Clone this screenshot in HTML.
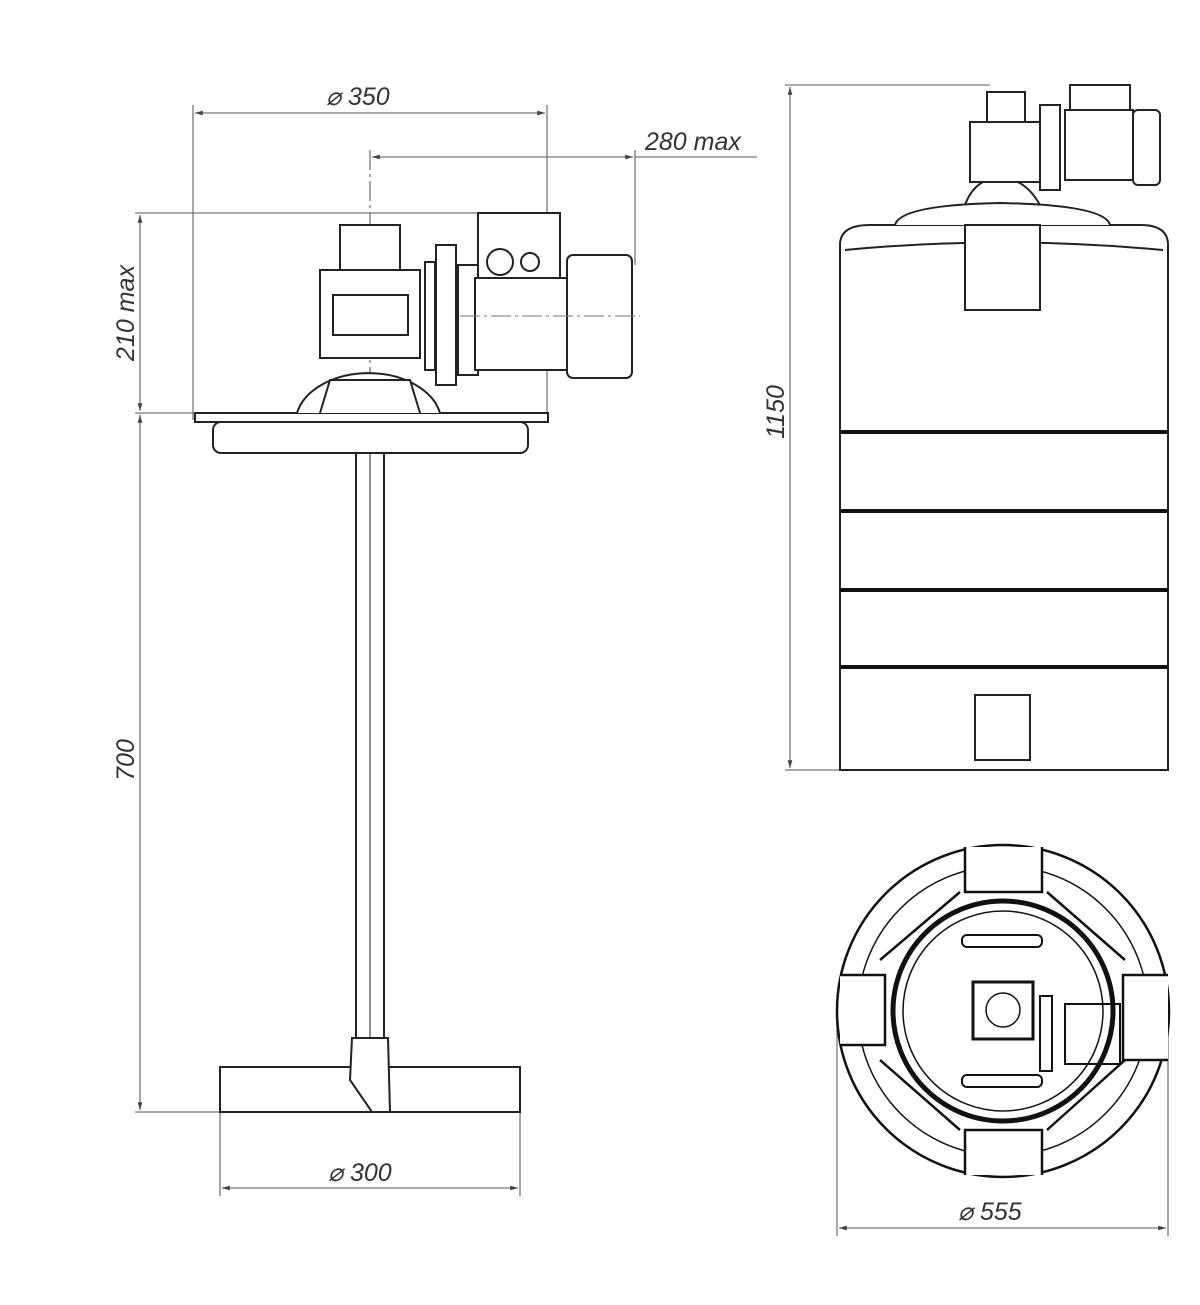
<!DOCTYPE html>
<html><head><style>body{margin:0;background:#fff}svg{display:block}</style></head><body>
<svg width="1200" height="1305" viewBox="0 0 1200 1305" xmlns="http://www.w3.org/2000/svg" font-family="Liberation Sans, sans-serif">
<defs><marker id="a" viewBox="0 0 10 10" refX="10" refY="5" markerWidth="10" markerHeight="6" orient="auto-start-reverse"><path d="M0,2 L10,5 L0,8z" fill="#444"/></marker></defs>
<g stroke="#777" stroke-width="1.3" fill="none">
<line x1="193" y1="105" x2="193" y2="420"/><line x1="547" y1="105" x2="547" y2="420"/>
<line x1="195" y1="113" x2="545" y2="113" marker-start="url(#a)" marker-end="url(#a)"/>
<line x1="635" y1="150" x2="635" y2="265"/>
<line x1="372" y1="157" x2="633" y2="157" marker-start="url(#a)" marker-end="url(#a)"/><line x1="635" y1="157" x2="757" y2="157"/>
<line x1="135" y1="213" x2="548" y2="213"/><line x1="135" y1="413" x2="195" y2="413"/>
<line x1="140" y1="215" x2="140" y2="411" marker-start="url(#a)" marker-end="url(#a)"/>
<line x1="140" y1="415" x2="140" y2="1110" marker-start="url(#a)" marker-end="url(#a)"/>
<line x1="135" y1="1112" x2="222" y2="1112"/>
<line x1="220" y1="1070" x2="220" y2="1196"/><line x1="520" y1="1070" x2="520" y2="1196"/>
<line x1="222" y1="1188" x2="518" y2="1188" marker-start="url(#a)" marker-end="url(#a)"/>
<line x1="370" y1="150" x2="370" y2="460" stroke-dasharray="20,4,3,4"/>
<line x1="785" y1="85" x2="990" y2="85"/><line x1="785" y1="770" x2="842" y2="770"/>
<line x1="790" y1="87" x2="790" y2="768" marker-start="url(#a)" marker-end="url(#a)"/>
<line x1="837" y1="1010" x2="837" y2="1236"/><line x1="1168" y1="1010" x2="1168" y2="1236"/>
<line x1="839" y1="1228" x2="1166" y2="1228" marker-start="url(#a)" marker-end="url(#a)"/>
</g>
<g fill="#333" font-style="italic" font-size="25">
<text x="326" y="105">⌀ 350</text>
<text x="645" y="150">280 max</text>
<text x="328" y="1181">⌀ 300</text>
<text x="958" y="1220">⌀ 555</text>
<text transform="translate(134,313) rotate(-90)" text-anchor="middle">210 max</text>
<text transform="translate(134,760) rotate(-90)" text-anchor="middle">700</text>
<text transform="translate(784,412) rotate(-90)" text-anchor="middle">1150</text>
</g>
<g stroke="#222" stroke-width="2" fill="#fff">
<rect x="195" y="413" width="353" height="9"/>
<rect x="213" y="422" width="315" height="31" rx="8"/>
<path d="M297,413 A73,50 0 0 1 440,413"/>
<path d="M320,413 L330,380 L410,380 L420,413"/>
<rect x="356" y="453" width="28" height="585"/>
<line x1="370" y1="453" x2="370" y2="1038" stroke-width="1"/>
<rect x="220" y="1067" width="300" height="45"/>
<path d="M352,1038 L388,1038 L390,1112 L372,1112 L350,1080 Z"/>
<rect x="340" y="225" width="60" height="45"/>
<rect x="320" y="270" width="100" height="88"/>
<rect x="333" y="295" width="75" height="40"/>
<rect x="425" y="262" width="10" height="108"/>
<rect x="436" y="245" width="20" height="140"/>
<rect x="458" y="265" width="20" height="110"/>
<rect x="478" y="213" width="82" height="65"/>
<circle cx="500" cy="262" r="13"/><circle cx="530" cy="262" r="9"/>
<rect x="475" y="278" width="92" height="92"/>
<rect x="567" y="255" width="65" height="123" rx="6"/>
</g>
<line x1="460" y1="316" x2="640" y2="316" stroke="#777" stroke-dasharray="20,4,3,4"/>
<g stroke="#222" stroke-width="2" fill="#fff">
<path d="M840,770 L840,245 Q840,225 870,225 L1140,225 Q1168,225 1168,245 L1168,770 Z"/>
<path d="M895,225 Q900,205 1000,203 Q1105,205 1110,225"/>
<path d="M845,250 Q1000,235 1163,250" fill="none"/>
<rect x="965" y="225" width="75" height="85"/>
<rect x="975" y="695" width="55" height="65"/>
<path d="M965,205 Q975,178 1000,178 Q1025,178 1040,205" fill="none"/>
<rect x="987" y="92" width="38" height="30"/>
<rect x="970" y="122" width="70" height="60"/>
<rect x="1040" y="105" width="20" height="85"/>
<rect x="1070" y="85" width="60" height="25"/>
<rect x="1065" y="110" width="68" height="70"/>
<rect x="1133" y="110" width="27" height="75" rx="5"/>
</g>
<g stroke="#111" stroke-width="4">
<line x1="840" y1="432" x2="1168" y2="432"/><line x1="840" y1="511" x2="1168" y2="511"/>
<line x1="840" y1="590" x2="1168" y2="590"/><line x1="840" y1="667" x2="1168" y2="667"/>
</g>
<g stroke="#111" stroke-width="2.5" fill="none">
<circle cx="1003" cy="1011" r="166"/>
<circle cx="1003" cy="1011" r="145" stroke-width="1.5"/>
<circle cx="1003" cy="1011" r="110" stroke-width="5"/>
<circle cx="1003" cy="1011" r="100" stroke-width="1.5"/>
<path d="M965,847 L965,892 L1042,892 L1042,847" fill="#fff"/>
<path d="M965,1175 L965,1130 L1042,1130 L1042,1175" fill="#fff"/>
<path d="M840,975 L885,975 L885,1045 L840,1045" fill="#fff"/>
<path d="M1168,975 L1123,975 L1123,1060 L1168,1060" fill="#fff"/>
<path d="M960,892 L880,960 M1047,892 L1125,960 M960,1130 L880,1060 M1047,1130 L1125,1060"/>
<rect x="962" y="935" width="80" height="12" rx="5" stroke-width="2"/>
<rect x="962" y="1075" width="80" height="12" rx="5" stroke-width="2"/>
<rect x="973" y="982" width="60" height="57" stroke-width="3"/>
<circle cx="1003" cy="1010" r="17" stroke-width="1.5"/>
<rect x="1040" y="996" width="12" height="75" stroke-width="2"/>
<rect x="1065" y="1004" width="55" height="60" stroke-width="2"/>
</g>
</svg>
</body></html>
